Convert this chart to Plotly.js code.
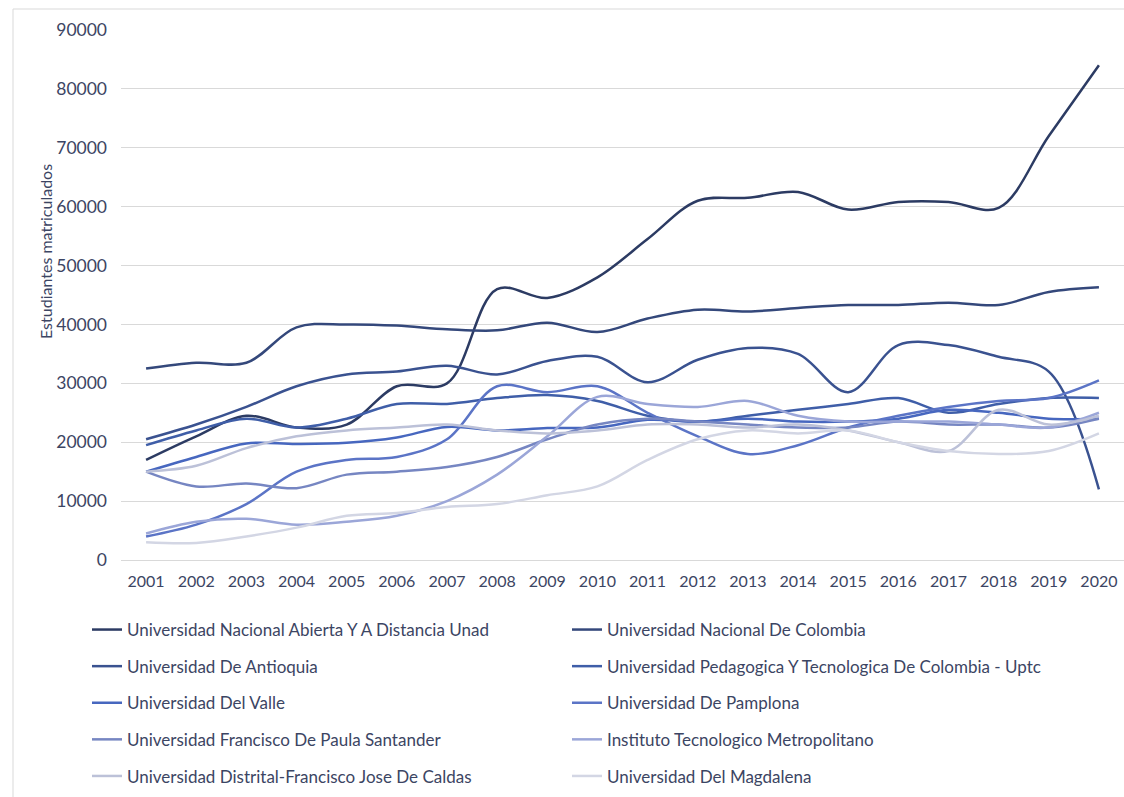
<!DOCTYPE html>
<html>
<head>
<meta charset="utf-8">
<script src="https://cdn.plot.ly/plotly-3.0.1.min.js"></script>
<style>
html,body{margin:0;padding:0;background:#fff;}
#chart{width:1124px;height:797px;}
</style>
</head>
<body>
<div id="chart"></div>
<script>
var years = ['2001','2002','2003','2004','2005','2006','2007','2008','2009','2010','2011','2012','2013','2014','2015','2016','2017','2018','2019','2020'];

var names = [
  'Universidad Nacional Abierta Y A Distancia Unad',
  'Universidad Nacional De Colombia',
  'Universidad De Antioquia',
  'Universidad Pedagogica Y Tecnologica De Colombia - Uptc',
  'Universidad Del Valle',
  'Universidad De Pamplona',
  'Universidad Francisco De Paula Santander',
  'Instituto Tecnologico Metropolitano',
  'Universidad Distrital-Francisco Jose De Caldas',
  'Universidad Del Magdalena'
];

var unad      = [17000, 21000, 24500, 22500, 23000, 29500, 30000, 46000, 44500, 48000, 54500, 61000, 61500, 62500, 59500, 60800, 60800, 59800, 72000, 84000];
var nacional  = [32500, 33500, 33500, 39500, 40000, 39800, 39200, 39000, 40300, 38700, 41000, 42500, 42200, 42800, 43300, 43300, 43700, 43300, 45500, 46300];
var antioquia = [20500, 23000, 26000, 29500, 31500, 32000, 33000, 31500, 33800, 34500, 30200, 34000, 36000, 35000, 28500, 36500, 36500, 34500, 32000, 12000];
var uptc      = [19500, 22000, 24000, 22500, 24000, 26500, 26500, 27500, 28000, 27000, 24500, 23500, 24500, 25500, 26500, 27500, 25000, 26500, 27500, 27500];
var valle     = [15000, 17500, 19800, 19700, 19900, 20800, 22600, 22000, 22400, 22500, 23800, 23500, 24000, 23500, 23500, 24000, 25500, 25000, 24000, 24000];
var pamplona  = [4000, 6000, 9500, 15000, 17000, 17500, 20500, 29500, 28500, 29500, 25000, 21000, 18000, 19500, 22500, 24500, 26000, 27000, 27500, 30500];
var fps       = [15000, 12500, 13000, 12200, 14500, 15000, 15800, 17500, 20500, 23000, 24000, 23500, 23000, 22500, 22500, 23500, 23000, 23000, 22500, 24000];
var itm       = [4500, 6500, 7000, 6000, 6500, 7500, 10000, 14500, 21000, 27700, 26500, 26000, 27000, 24500, 23500, 23500, 23500, 23000, 22500, 25000];
var distrital = [15000, 16000, 19000, 21000, 22000, 22500, 23000, 22000, 21500, 22000, 23000, 23000, 22500, 23000, 22000, 20000, 18500, 25500, 23000, 24500];
var magdalena = [3000, 2900, 4000, 5500, 7500, 8000, 9000, 9500, 11000, 12500, 17000, 20500, 22000, 21500, 22000, 20000, 18500, 18000, 18500, 21500];

var series = [unad, nacional, antioquia, uptc, valle, pamplona, fps, itm, distrital, magdalena];
var colors = ['#2c3b63', '#34487b', '#3a5290', '#3f5ea8', '#4767bf', '#5b74c6', '#7686c2', '#9ba6d8', '#bcc1d8', '#d3d6e4'];

var traces = series.map(function (vals, i) {
  return {
    type: 'scatter',
    mode: 'lines',
    x: years,
    y: vals,
    name: names[i],
    legend: (i % 2 === 0) ? 'legend' : 'legend2',
    legendgroup: 'g' + i,
    line: {color: colors[i], width: 2.5, shape: 'spline', smoothing: 1},
    hoverinfo: 'x+y+name'
  };
});

var fontFam = 'Lato, "Open Sans", sans-serif';
var textCol = '#3c4563';

var legendCommon = {
  orientation: 'v',
  xref: 'container', yref: 'container',
  yanchor: 'top', xanchor: 'left',
  y: 1 - 612 / 797,
  font: {family: fontFam, size: 17, color: textCol},
  tracegroupgap: 11.5,
  traceorder: 'grouped',
  bgcolor: 'rgba(0,0,0,0)',
  borderwidth: 0
};

var layout = {
  width: 1124, height: 797,
  margin: {l: 121, r: 0, t: 30, b: 237, autoexpand: false},
  paper_bgcolor: '#ffffff',
  plot_bgcolor: '#ffffff',
  font: {family: fontFam, color: textCol},
  showlegend: true,
  legend: Object.assign({}, legendCommon, {x: 87 / 1124}),
  legend2: Object.assign({}, legendCommon, {x: 567 / 1124}),
  xaxis: {
    type: 'category',
    range: [-0.5, 19.5],
    showgrid: false,
    zeroline: false,
    showline: false,
    ticks: '',
    tickangle: 0,
    tickfont: {family: fontFam, size: 16, color: textCol},
    ticklabelstandoff: 10
  },
  yaxis: {
    range: [0, 90000],
    dtick: 10000,
    showgrid: true,
    gridcolor: '#d9d9d9',
    gridwidth: 1,
    zeroline: true,
    zerolinecolor: '#d9d9d9',
    zerolinewidth: 1,
    showline: false,
    ticks: '',
    tickformat: 'd',
    tickfont: {family: fontFam, size: 17.5, color: textCol},
    ticklabelstandoff: 13
  },
  annotations: [{
    text: 'Estudiantes matriculados',
    xref: 'paper', yref: 'paper',
    x: (45 - 121) / 1003, y: (560 - 252) / 530,
    xanchor: 'center', yanchor: 'middle',
    textangle: -90,
    showarrow: false,
    font: {family: fontFam, size: 16, color: textCol}
  }],
  shapes: [
    {type: 'line', xref: 'paper', yref: 'paper', x0: (13 - 121) / 1003, x1: 1.01, y0: (560 - 9) / 530, y1: (560 - 9) / 530, line: {color: '#d9d9d9', width: 1}},
    {type: 'line', xref: 'paper', yref: 'paper', x0: (13 - 121) / 1003, x1: (13 - 121) / 1003, y0: (560 - 9) / 530, y1: (560 - 797) / 530, line: {color: '#d9d9d9', width: 1}}
  ]
};

Plotly.newPlot('chart', traces, layout, {displayModeBar: false, responsive: false});
</script>
</body>
</html>
